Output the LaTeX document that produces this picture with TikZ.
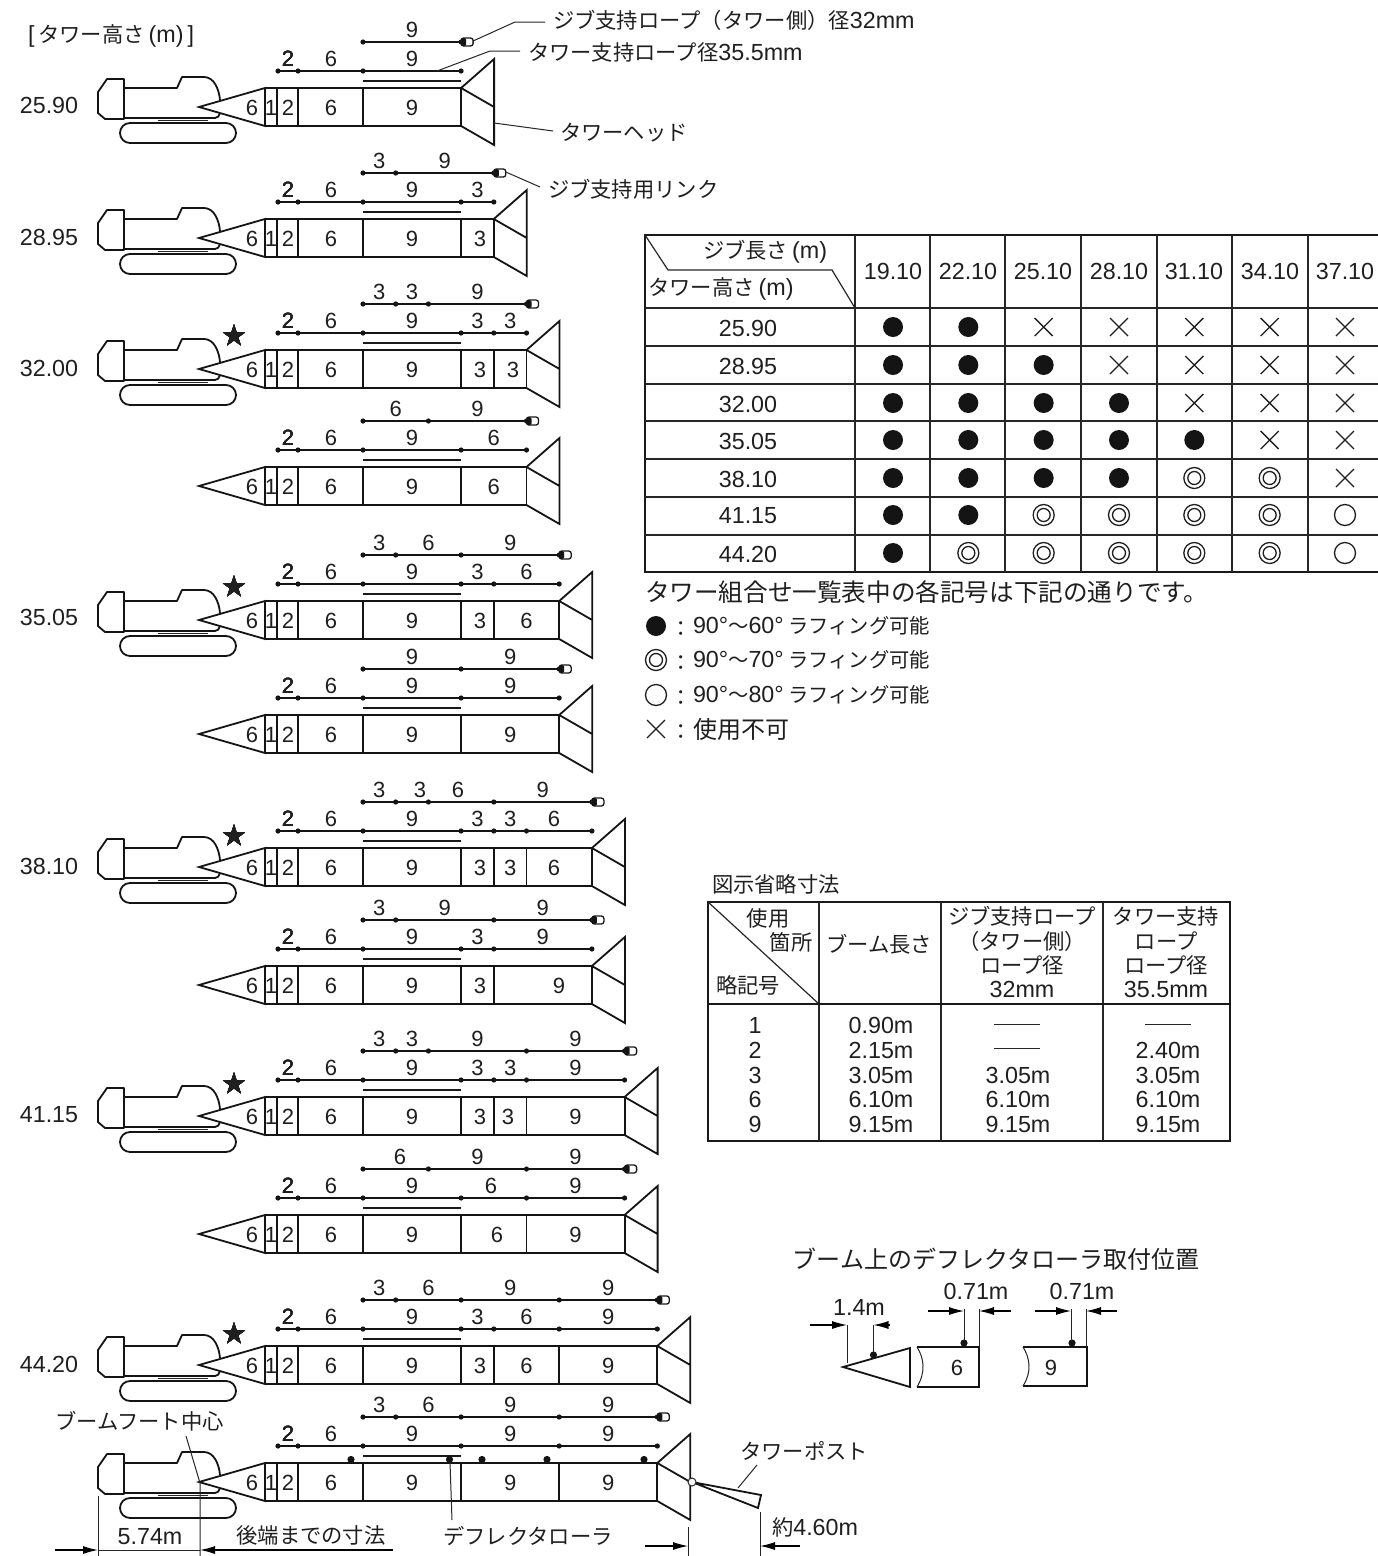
\documentclass[tikz,border=0pt]{standalone}
\usepackage{fontspec}
\usetikzlibrary{arrows.meta}
\setmainfont{Liberation Sans}
\newfontfamily\jpf{Noto Sans CJK JP}
\newcommand{\J}[1]{{\jpf\fontsize{21.3}{25}\selectfont #1}}
\newcommand{\JS}[1]{{\jpf\fontsize{20.3}{25}\selectfont #1}}
\newcommand{\JL}[1]{{\jpf\fontsize{24}{25}\selectfont #1}}
\tikzset{
  every node/.style={inner sep=0pt,outer sep=0pt,text=black!88},
  lat/.style={font=\fontsize{23.3}{25}\selectfont},
  num/.style={font=\fontsize{22}{25}\selectfont},
  boomline/.style={line width=1.8pt,draw=black!92},
  rope/.style={line width=1.7pt,draw=black!92},
  thinl/.style={line width=1pt,draw=black!85},
  tabl/.style={line width=1.2pt,draw=black!85},
  tabo/.style={line width=2.2pt,draw=black!90},
  symb/.style={line width=1.3pt,draw=black!88},
  dimarrow/.style={line width=1.1pt,draw=black,-{Latex[length=15pt,width=8pt]}},
}
\newcommand{\segdot}[2]{\fill[black!92] (#1,#2) circle (2.6);}
% label positions that differ from the section midpoint
\expandafter\def\csname blx-2-1\endcsname{480}
\expandafter\def\csname blx-3-1\endcsname{480}
\expandafter\def\csname blx-3-2\endcsname{513}
\expandafter\def\csname blx-5-1\endcsname{480}
\expandafter\def\csname blx-7-1\endcsname{480}
\expandafter\def\csname blx-7-3\endcsname{554}
\expandafter\def\csname blx-8-1\endcsname{480}
\expandafter\def\csname blx-8-2\endcsname{559}
\expandafter\def\csname blx-9-1\endcsname{480}
\expandafter\def\csname blx-9-2\endcsname{508}
\expandafter\def\csname blx-10-1\endcsname{497}
\expandafter\def\csname blx-11-1\endcsname{480}
\expandafter\def\csname ulx-7-3\endcsname{554}
\expandafter\def\csname ulx-10-1\endcsname{491}
\expandafter\def\csname jlx-7-2\endcsname{420}
\expandafter\def\csname jlx-7-3\endcsname{458}
\expandafter\def\csname jlx-10-1\endcsname{400}
\newcommand{\labx}[5]{% prefix, row, index, left, right -> \lx
  \ifcsname #1-#2-#3\endcsname
    \edef\lx{\csname #1-#2-#3\endcsname}%
  \else
    \pgfmathsetmacro\lx{(#4+#5)/2}%
  \fi}
\newcommand{\towerrow}[4]{%
\begin{scope}[shift={(0,#2)}]
  % boom fixed part
  \draw[boomline,fill=white] (199,0) -- (265,-19) -- (265,19) -- cycle;
  \draw[boomline] (265,-19) -- (461.1,-19) (265,19) -- (461.1,19);
  \foreach \xv in {277,298,363,461.1} \draw[boomline] (\xv,-19) -- (\xv,19);
  \node[num] (b#1c) at (252,1) {6};
  \node[num] (b#1d) at (271,1) {1};
  \node[num] (b#1e) at (288,1) {2};
  \node[num] (b#1f) at (331,1) {6};
  \node[num] (b#1g) at (412,1) {9};
  % tower support rope, fixed part
  \draw[rope] (278,-36) -- (461.1,-36);
  \foreach \xv in {278,298,363,461.1} \segdot{\xv}{-36}
  \node[num] (s#1c) at (288,-48) {2};
  \node[num] (s#1d) at (331,-48) {6};
  \node[num] (s#1e) at (412,-48) {9};
  \draw[line width=2.2pt,draw=black!90] (363,-26) -- (461.1,-26);
  % extra tower sections
  \xdef\hx{461.1}
  \if\relax\detokenize{#3}\relax\else
  \foreach \l [count=\i, remember=\xx as \px (initially 461.1), evaluate=\l as \xx using \px+10.9*\l] in {#3} {
    \draw[boomline] (\px,-19) -- (\xx,-19) (\px,19) -- (\xx,19) (\xx,-19) -- (\xx,19);
    \labx{blx}{#1}{\i}{\px}{\xx}
    \node[num] (t#1x\i) at (\lx,1) {\l};
    \draw[rope] (\px,-36) -- (\xx,-36);
    \segdot{\xx}{-36}
    \labx{ulx}{#1}{\i}{\px}{\xx}
    \node[num] (u#1x\i) at (\lx,-48) {\l};
    \xdef\hx{\xx}
  }
  \fi
  % tower head
  \draw[boomline] (\hx,-19) -- ({\hx+33},-48) -- ({\hx+33},38) -- (\hx,19)
                  (\hx,-19) -- ({\hx+33},0);
  \coordinate (headlow#1) at ({\hx+33},16);
  \coordinate (ropepoint#1) at (437,-36);
  % jib support rope
  \segdot{363}{-65}
  \xdef\jx{363}
  \foreach \l [count=\i, remember=\xx as \px (initially 363), evaluate=\l as \xx using \px+10.9*\l] in {#4} {
    \draw[rope] (\px,-65) -- (\xx,-65);
    \labx{jlx}{#1}{\i}{\px}{\xx}
    \node[num] (j#1x\i) at (\lx,-77) {\l};
    \segdot{\xx}{-65}
    \xdef\jx{\xx}
  }
  \draw[line width=1.3pt,draw=black!90,fill=white,rounded corners=2.5] (\jx,-69) rectangle ({\jx+12},-61);
  \fill[black!92,rounded corners=1.5] (\jx,-69) rectangle ({\jx+5},-61);
  \coordinate (sock#1) at ({\jx+12},-66);
\end{scope}}
\newcommand{\crane}[1]{%
\begin{scope}[shift={(0,#1)}]
  \draw[boomline,line join=round] (98,-15) -- (107,-28) -- (124,-28) -- (124,12) -- (105,12) -- (98,6) -- cycle;
  \draw[boomline,line join=round] (124,-19) -- (177,-19) -- (182,-30) -- (204,-30)
     .. controls (214,-30) and (219,-18) .. (220,-7);
  \draw[boomline] (124,11) -- (215,11) .. controls (218,11) and (219,9) .. (220,6);
  \draw[line width=1pt,black!85] (158,13) -- (208,13);
  \draw[boomline,rounded corners=10] (120,16) rectangle (236,36);
\end{scope}}
\newcommand{\tabsym}[3]{%
  \ifcase#1\or
    \fill[black!92] (#2,#3) circle (10);
  \or
    \draw[symb] (#2,#3) circle (10.5); \draw[symb] (#2,#3) circle (6.5);
  \or
    \draw[symb] (#2,#3) circle (10.5);
  \or
    \draw[symb] (#2-9,#3-9) -- (#2+9,#3+9) (#2-9,#3+9) -- (#2+9,#3-9);
  \fi}
\begin{document}
\begin{tikzpicture}[x=1pt,y=-1pt]
\useasboundingbox (0,0) rectangle (1378,1556);
\fill[white] (0,0) rectangle (1378,1556);

\node[lat,anchor=west] (toptitle) at (28,36) {[\,\J{タワー高さ}\,(m)\,]};

% height labels
\foreach \txt/\yy [count=\i] in {25.90/105,28.95/237,32.00/368,35.05/617,38.10/866,41.15/1115,44.20/1364}
  \node[lat] (height\i) at (49,\yy) {\txt};

% rows
\towerrow{1}{107}{}{9}
\towerrow{2}{238}{3}{3,9}
\towerrow{3}{369}{3,3}{3,3,9}
\towerrow{4}{486}{6}{6,9}
\towerrow{5}{620}{3,6}{3,6,9}
\towerrow{6}{734}{9}{9,9}
\towerrow{7}{867}{3,3,6}{3,3,6,9}
\towerrow{8}{985}{3,9}{3,9,9}
\towerrow{9}{1116}{3,3,9}{3,3,9,9}
\towerrow{10}{1234}{6,9}{6,9,9}
\towerrow{11}{1365}{3,6,9}{3,6,9,9}
\towerrow{12}{1482}{9,9}{3,6,9,9}
\foreach \c in {107,238,369,620,867,1116,1365,1482} \crane{\c}
\foreach \yy [count=\i] in {335,586,835,1083,1333}
  \node[font=\jpf\fontsize{24}{25}\selectfont] (star\i) at (234,\yy) {★};

% callouts
\node[lat,anchor=west] (c1) at (553,20) {\J{ジブ支持ロープ（タワー側）径}32mm};
\draw[thinl] (sock1) -- (515,22) -- ([xshift=-8pt,yshift=-2pt]c1.west);
\node[lat,anchor=west] (c2) at (528,52) {\J{タワー支持ロープ径}35.5mm};
\draw[thinl] (ropepoint1) -- (490,51) -- ([xshift=-8pt,yshift=1pt]c2.west);
\node[anchor=west] (c3) at (560,133) {\J{タワーヘッド}};
\draw[thinl] (headlow1) -- ([xshift=-7pt,yshift=2pt]c3.west);
\node[anchor=west] (c4) at (548,189) {\J{ジブ支持用リンク}};
\draw[thinl] (sock2) -- ([xshift=-8pt,yshift=2pt]c4.west);

% main table
\draw[tabo] (1378,235) -- (645,235) -- (645,572) -- (1378,572);
\foreach \xv in {855,930,1005,1081,1157,1232,1308} \draw[tabl] (\xv,235) -- (\xv,572);
\foreach \yy in {308,346,384,421,459,497,535} \draw[tabl] (645,\yy) -- (1378,\yy);
\draw[tabl] (645,235) -- (668,270) -- (832,270) -- (855,308);
\node[lat] (th1) at (765,252) {\J{ジブ長さ}\,(m)};
\node[lat] (th2) at (721,289) {\J{タワー高さ}\,(m)};
\foreach \txt/\xv [count=\i] in {19.10/893,22.10/968,25.10/1043,28.10/1119,31.10/1194,34.10/1270,37.10/1345}
  \node[lat] (col\i) at (\xv,271) {\txt};
\foreach \txt/\yy/\vals [count=\i] in {
   25.90/328/{1,1,4,4,4,4,4},
   28.95/366/{1,1,1,4,4,4,4},
   32.00/404/{1,1,1,1,4,4,4},
   35.05/441/{1,1,1,1,1,4,4},
   38.10/479/{1,1,1,1,2,2,4},
   41.15/516/{1,1,2,2,2,2,3},
   44.20/554/{1,2,2,2,2,2,3}} {
  \node[lat] (rowv\i) at (748,\yy) {\txt};
  \pgfmathsetmacro\cy{\yy-1}
  \foreach \s [count=\c] in \vals {
    \pgfmathsetmacro\cx{893+75.33*(\c-1)}
    \tabsym{\s}{\cx}{\cy}
  }
}
% legend
\node[anchor=west] (legt) at (645,592) {{\jpf\fontsize{24.6}{25}\selectfont タワー組合せ一覧表中の各記号は下記の通りです。}};
\tabsym{1}{656}{626}
\tabsym{2}{656}{660}
\tabsym{3}{656}{695}
\tabsym{4}{656}{729}
\foreach \yy [count=\i] in {629,663,698,732}
  \node (legc\i) at (681,\yy) {\J{：}};
\node[lat,anchor=west] (leg1) at (693,626) {90°\JS{〜}60°\JS{ ラフィング可能}};
\node[lat,anchor=west] (leg2) at (693,660) {90°\JS{〜}70°\JS{ ラフィング可能}};
\node[lat,anchor=west] (leg3) at (693,695) {90°\JS{〜}80°\JS{ ラフィング可能}};
\node[anchor=west] (leg4) at (693,729) {{\jpf\fontsize{24}{25}\selectfont 使用不可}};

% abbreviation table
\node[anchor=west] (ab0) at (712,884) {\J{図示省略寸法}};
\draw[tabo,line width=1.7pt] (708,902) rectangle (1230,1141);
\foreach \xv in {819,941,1103} \draw[tabl] (\xv,902) -- (\xv,1141);
\draw[tabo,line width=1.6pt] (708,1004) -- (1230,1004);
\draw[tabl] (708,902) -- (819,1004);
\node (ab1) at (768,918) {\J{使用}};
\node (ab2) at (791,942) {\J{箇所}};
\node (ab3) at (748,985) {\J{略記号}};
\node (ab4) at (879,944) {\J{ブーム長さ}};
\node (ab5) at (1022,916) {\J{ジブ支持ロープ}};
\node (ab6) at (1022,941) {\J{（タワー側）}};
\node (ab7) at (1022,965) {\J{ロープ径}};
\node[lat] (ab8) at (1022,989) {32mm};
\node (ab9) at (1166,916) {\J{タワー支持}};
\node (ab10) at (1166,941) {\J{ロープ}};
\node (ab11) at (1166,965) {\J{ロープ径}};
\node[lat] (ab12) at (1166,989) {35.5mm};
\foreach \a/\b/\yy [count=\i] in {1/0.90m/1025,2/2.15m/1050,3/3.05m/1075,6/6.10m/1099,9/9.15m/1124} {
  \node[lat] (ta\i) at (755,\yy) {\a};
  \node[lat] (tb\i) at (881,\yy) {\b};
}
\foreach \c/\yy [count=\i] in {3.05m/1075,6.10m/1099,9.15m/1124}
  \node[lat] (tc\i) at (1018,\yy) {\c};
\foreach \d/\yy [count=\i] in {2.40m/1050,3.05m/1075,6.10m/1099,9.15m/1124}
  \node[lat] (td\i) at (1168,\yy) {\d};
\draw[thinl] (994,1024) -- (1040,1024) (994,1048) -- (1040,1048) (1145,1024) -- (1191,1024);

% deflector roller detail
\node (df0) at (996,1259) {\JL{ブーム上のデフレクタローラ取付位置}};
\draw[boomline,line join=miter] (843,1367) -- (910,1348) -- (910,1387) -- cycle;
\fill[black!92] (873.5,1355) circle (3.6);
\draw[thinl] (847,1325) -- (847,1363) (873.5,1325) -- (873.5,1352);
\coordinate (d1l) at (810,1325); \coordinate (d1a) at (847,1325);
\coordinate (d1r) at (890,1325); \coordinate (d1b) at (873.5,1325);
\draw[dimarrow] (d1l) -- (d1a);
\draw[dimarrow] (d1r) -- (d1b);
\node[lat] (df1) at (859,1307) {1.4m};

\draw[boomline] (917,1347) -- (979,1347) -- (979,1387) -- (917,1387);
\draw[thinl] (917,1347) .. controls (924,1358) and (926,1372) .. (917,1387);
\fill[black!92] (964,1343) circle (3.6);
\draw[thinl] (964,1309) -- (964,1341) (979,1309) -- (979,1347);
\coordinate (d2l) at (928,1311); \coordinate (d2a) at (964,1311);
\coordinate (d2r) at (1011,1311); \coordinate (d2b) at (979,1311);
\draw[dimarrow] (d2l) -- (d2a);
\draw[dimarrow] (d2r) -- (d2b);
\node[lat] (df2) at (976,1291) {0.71m};
\node[num] (df3) at (957,1368) {6};

\draw[boomline] (1023,1347) -- (1087,1347) -- (1087,1386) -- (1023,1386);
\draw[thinl] (1023,1347) .. controls (1030,1358) and (1032,1372) .. (1023,1386);
\fill[black!92] (1072,1343) circle (3.6);
\draw[thinl] (1071,1309) -- (1071,1341) (1086,1309) -- (1086,1347);
\coordinate (d3l) at (1035,1311); \coordinate (d3a) at (1071,1311);
\coordinate (d3r) at (1117,1311); \coordinate (d3b) at (1086,1311);
\draw[dimarrow] (d3l) -- (d3a);
\draw[dimarrow] (d3r) -- (d3b);
\node[lat] (df4) at (1082,1291) {0.71m};
\node[num] (df5) at (1051,1368) {9};

% bottom row details
\foreach \xv in {351,449.5,482,547,644} \fill[black!92] (\xv,1459.5) circle (3.6);
\node (bf) at (139.5,1421) {\J{ブームフート中心}};
\coordinate (bfa) at (186,1436); \coordinate (bfb) at (200,1483);
\draw[thinl] (bfa) -- (bfb) -- (200,1556);
\draw[thinl] (98,1496) -- (98,1556);
\coordinate (da) at (55,1550); \coordinate (db) at (98,1550);
\coordinate (dc) at (393,1550); \coordinate (dd) at (200,1550);
\draw[dimarrow] (da) -- (db);
\draw[dimarrow] (dc) -- (dd);
\draw[thinl] (98,1550) -- (200,1550);
\node[lat] (dim1) at (150,1537) {5.74m};
\node (dim2) at (311,1535) {\J{後端までの寸法}};
\node (defl) at (528,1536) {\J{デフレクタローラ}};
\draw[thinl] (450,1462) -- (452,1520);

\draw[boomline] (692,1482) -- (761,1495) -- (758,1508) -- cycle;
\draw[thinl,fill=white] (692,1482) circle (4);
\node (tp) at (804,1451) {\J{タワーポスト}};
\draw[thinl] (757,1465) -- (738,1488);
\node[lat,anchor=west] (tpd) at (772,1527) {\J{約}4.60m};
\draw[thinl] (760,1512) -- (760,1556) (688,1527) -- (688,1556);
\coordinate (de) at (645,1546); \coordinate (df) at (688,1546);
\coordinate (dg) at (800,1546); \coordinate (dh) at (760,1546);
\draw[dimarrow] (de) -- (df);
\draw[dimarrow] (dg) -- (dh);
\end{tikzpicture}
\end{document}
